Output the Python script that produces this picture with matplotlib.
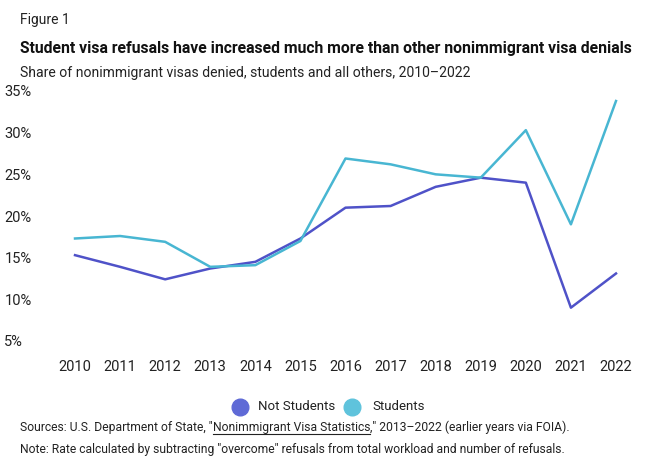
import numpy as np
import matplotlib
matplotlib.use('Agg')
import matplotlib.pyplot as plt
from matplotlib.lines import Line2D

plt.rcParams['font.family'] = ['Roboto', 'DejaVu Sans']

years = [2010, 2011, 2012, 2013, 2014, 2015, 2016, 2017, 2018, 2019, 2020, 2021, 2022]
not_students = [15.3, 13.9, 12.4, 13.7, 14.5, 17.3, 21.0, 21.2, 23.5, 24.6, 24.0, 9.0, 13.1]
students = [17.3, 17.6, 16.9, 13.9, 14.1, 17.0, 26.9, 26.2, 25.0, 24.6, 30.3, 19.0, 33.8]
yticks = [5, 10, 15, 20, 25, 30, 35]

c_ns = '#4f52c8'
c_st = '#48b6d2'
txt = '#222222'

W, H = 660, 476
fig = plt.figure(figsize=(6.6, 4.76), dpi=100)

# axes placed in pixel terms
l, r, t, b = 60, 632, 91, 341
ax = fig.add_axes([l / W, (H - b) / H, (r - l) / W, (b - t) / H])
ax.plot(years, not_students, c=c_ns, lw=1.8, clip_on=False)
ax.plot(years, students, c=c_st, lw=1.8, clip_on=False)
ax.set_xlim(2009.667, 2022.355)
ax.set_ylim(5, 35)
for s in ax.spines.values():
    s.set_visible(False)
ax.set_xticks(years)
ax.set_xticklabels([str(y) for y in years], fontsize=10.5, color=txt)
ax.set_yticks(yticks)
ax.set_yticklabels(['%d%%' % v for v in yticks], fontsize=10.5, color=txt, ha='left')
ax.tick_params(axis='both', length=0)
ax.tick_params(axis='x', pad=14)
ax.tick_params(axis='y', pad=40)

def px(x, y):
    return x / W, 1 - y / H

fig.text(*px(20, 20), 'Figure 1', fontsize=10, va='center', color=txt)
fig.text(*px(20, 48), 'Student visa refusals have increased much more than other nonimmigrant visa denials',
         fontsize=11.3, fontweight='bold', va='center', color='#111111')
fig.text(*px(20, 73), 'Share of nonimmigrant visas denied, students and all others, 2010\u20132022',
         fontsize=10.1, va='center', color=txt)

# legend
fig.add_artist(Line2D([240 / W], [1 - 407 / H], marker='o', ms=12, color='#5f6ad6', lw=0))
fig.text(*px(258, 407), 'Not Students', fontsize=9.5, va='center', color=txt)
fig.add_artist(Line2D([352 / W], [1 - 407 / H], marker='o', ms=12, color='#5fc3dc', lw=0))
fig.text(*px(372, 407), 'Students', fontsize=9.5, va='center', color=txt)

# source line with underlined link text
renderer = fig.canvas.get_renderer()
parts = ['Sources: U.S. Department of State, "', 'Nonimmigrant Visa Statistics',
         '," 2013\u20132022 (earlier years via FOIA).']
x0 = 20 / W
y0 = 1 - 427 / H
for i, p in enumerate(parts):
    tx = fig.text(x0, y0, p, fontsize=8.7, va='center', color=txt)
    bb = tx.get_window_extent(renderer)
    if i == 1:
        fig.add_artist(Line2D([bb.x0 / W, bb.x1 / W], [y0 - 6.5 / H, y0 - 6.5 / H], color=txt, lw=0.8))
    x0 = bb.x1 / W

fig.text(*px(20, 449), 'Note: Rate calculated by subtracting "overcome" refusals from total workload and number of refusals.',
         fontsize=8.7, va='center', color=txt)

fig.savefig('out.png', dpi=100)
